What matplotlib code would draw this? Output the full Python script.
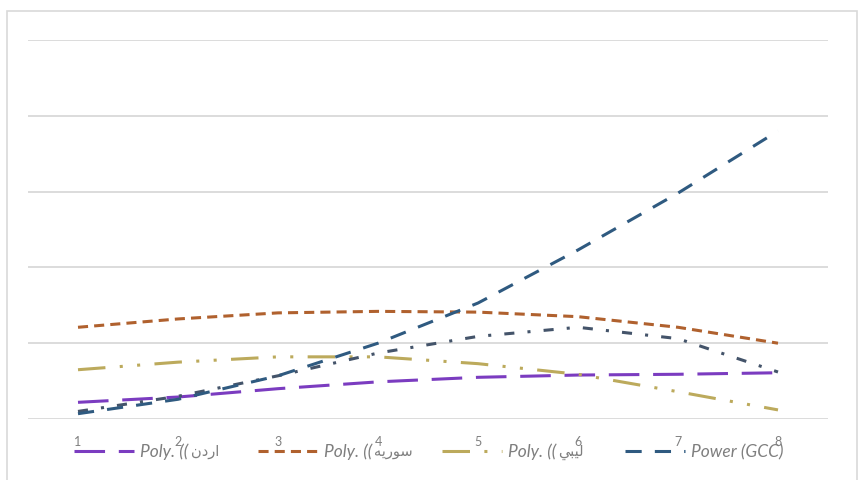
import matplotlib
matplotlib.use("Agg")
import matplotlib.pyplot as plt
from matplotlib.patches import Rectangle

plt.rcParams["font.family"] = ["Lato", "DejaVu Sans"]

categories = [1, 2, 3, 4, 5, 6, 7, 8]

# trendline values per category
jordan = [0.22, 0.29, 0.40, 0.49, 0.55, 0.58, 0.59, 0.61]
syria = [1.21, 1.32, 1.40, 1.42, 1.41, 1.35, 1.21, 1.00]
libya = [0.65, 0.75, 0.82, 0.82, 0.73, 0.59, 0.36, 0.12]
gcc_power = [0.07, 0.26, 0.57, 1.00, 1.53, 2.23, 2.98, 3.80]
gcc_poly = [0.10, 0.30, 0.57, 0.87, 1.09, 1.21, 1.06, 0.62]

# legend names; Arabic in visual (left-to-right) order with presentation forms
prefixes = ["Poly. ((", "Poly. ((", "Poly. ((", "Power (GCC)"]
arabic = ["\u0646\u062f\u0631\u0627",
          "\ufeea\ufef3\ufead\ufeee\ufeb3",
          "\ufef2\ufe92\ufef4\ufedf",
          ""]

fig = plt.figure(figsize=(8.62, 4.8), dpi=100)
fig.patches.append(Rectangle((7 / 862, -0.01), 850 / 862, 1 - 11 / 480 + 0.01,
                             transform=fig.transFigure, fill=False,
                             edgecolor="#d9d9d9", linewidth=1.2))

ax = fig.add_axes([28 / 862, 1 - 419 / 480, 800 / 862, 379 / 480])
ax.set_xlim(0.5, 8.5)
ax.set_ylim(0, 5)
ax.set_yticks(range(6))
ax.yaxis.grid(True, color="#d9d9d9", linewidth=1.3)
ax.set_axisbelow(True)
for s in ax.spines.values():
    s.set_visible(False)
ax.tick_params(left=False, labelleft=False, bottom=False)
ax.set_xticks(categories)
ax.set_xticklabels([str(c) for c in categories], color="#7f7f7f", fontsize=9)
ax.tick_params(axis="x", pad=9)

lw = 2.2
h1, = ax.plot(categories, jordan, color="#7b3cc0", lw=lw,
              linestyle=(0, (10, 4.5)))
h2, = ax.plot(categories, syria, color="#b0612e", lw=lw,
              linestyle=(0, (3.3, 2)))
h3, = ax.plot(categories, libya, color="#bcaa5c", lw=lw,
              linestyle=(0, (9, 4.7, 1, 4.7, 1, 4.7)))
ax.plot(categories, gcc_poly, color="#44546a", lw=lw,
        linestyle=(0, (3.3, 4.3, 1, 4.3)))
h4, = ax.plot(categories, gcc_power, color="#2f5a80", lw=lw,
              linestyle=(0, (5.3, 4.3)))

# italic fonts here have no Arabic glyphs, so the Arabic part of each label
# is drawn upright right after the italic prefix, inside the column gap
leg_size = 12.5
leg = ax.legend([h1, h2, h3, h4], prefixes, ncol=4, loc="center left",
                bbox_to_anchor=(0.047, -0.087), frameon=False, borderpad=0,
                handlelength=3.45, columnspacing=4.0, handletextpad=0.35,
                prop={"style": "italic", "size": leg_size})
for t in leg.get_texts():
    t.set_color("#7f7f7f")

fig.canvas.draw()
renderer = fig.canvas.get_renderer()
inv = fig.transFigure.inverted()
for t, a in zip(leg.get_texts(), arabic):
    if not a:
        continue
    bb = t.get_window_extent(renderer)
    x, y = inv.transform((bb.x1 + 2, (bb.y0 + bb.y1) / 2))
    fig.text(x, y, a, family="DejaVu Sans", fontsize=10.5, color="#7f7f7f",
             ha="left", va="center")

fig.savefig("out.png", dpi=100)
